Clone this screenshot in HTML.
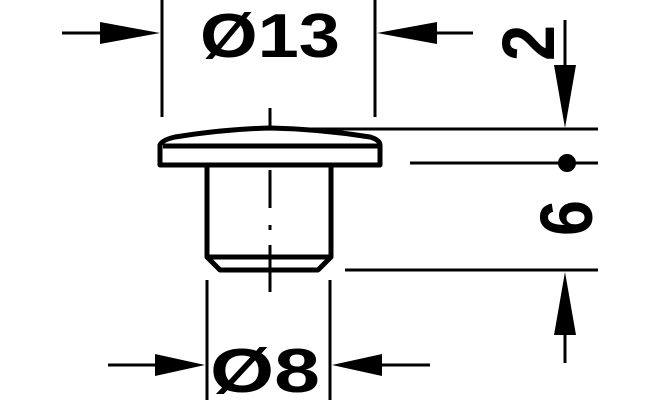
<!DOCTYPE html>
<html><head><style>body{margin:0;background:#fff}svg{display:block}</style></head><body>
<svg width="660" height="400" viewBox="0 0 660 400" xmlns="http://www.w3.org/2000/svg">
<g stroke="#000" stroke-width="3" fill="none">
<line x1="162" y1="0" x2="162" y2="117"/>
<line x1="375" y1="0" x2="375" y2="117"/>
<line x1="62" y1="33" x2="110" y2="33"/>
<line x1="430" y1="33" x2="473" y2="33"/>
<line x1="207" y1="280" x2="207" y2="400"/>
<line x1="330" y1="280" x2="330" y2="400"/>
<line x1="108" y1="365" x2="160" y2="365"/>
<line x1="380" y1="365" x2="430" y2="365"/>
<line x1="565" y1="20" x2="565" y2="70"/>
<line x1="565" y1="330" x2="565" y2="363"/>
<line x1="300" y1="129" x2="598" y2="129"/>
<line x1="410" y1="163" x2="598" y2="163"/>
<line x1="345" y1="270" x2="598" y2="270"/>
<line x1="270" y1="108" x2="270" y2="128"/>
<line x1="270" y1="170" x2="270" y2="208" />
<line x1="270" y1="225" x2="270" y2="230"/>
<line x1="270" y1="245" x2="270" y2="292"/>
</g>
<g fill="#000">
<polygon points="160,33 100,22 100,44"/>
<polygon points="377,33 437,22 437,44"/>
<polygon points="205,365 155,354 155,376"/>
<polygon points="332,365 382,354 382,376"/>
<polygon points="565,128 554,65 576,65"/>
<polygon points="565,272 554,335 576,335"/>
<circle cx="567" cy="163" r="9"/>
</g>
<g stroke="#000" stroke-width="5" fill="none" stroke-linejoin="round">
<path d="M160,145 Q162,140 175,137 Q225,129 270,128 Q320,129 370,137 Q380,140 380,145 L380,165 L160,165 Z"/>
<line x1="163" y1="146" x2="378" y2="146"/>
<path d="M207,166 L207,257 L220,270 L318,270 L331,257 L331,166"/>
<line x1="207" y1="257" x2="331" y2="257"/>
</g>
<g font-family="Liberation Sans, sans-serif" font-weight="bold" fill="#000">
<text x="200" y="57" font-size="62" textLength="140" lengthAdjust="spacingAndGlyphs">Ø13</text>
<text x="210" y="392" font-size="62" textLength="110" lengthAdjust="spacingAndGlyphs">Ø8</text>
<text transform="translate(554,61) rotate(-90)" font-size="74" textLength="36" lengthAdjust="spacingAndGlyphs">2</text>
<text transform="translate(592,236) rotate(-90)" font-size="74" textLength="36" lengthAdjust="spacingAndGlyphs">6</text>
</g>
</svg>
</body></html>
